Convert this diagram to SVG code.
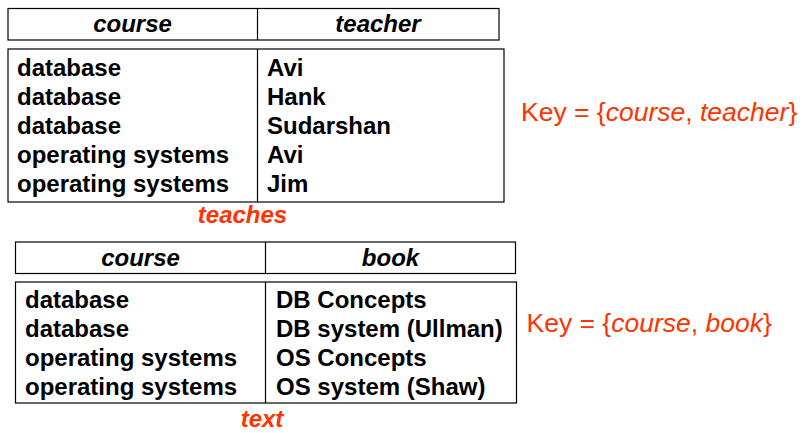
<svg xmlns="http://www.w3.org/2000/svg" width="805" height="433" viewBox="0 0 805 433">
<style>
.box{fill:#fff;stroke:#000;stroke-width:1.2}
.ln{stroke:#000;stroke-width:1.2}
.hd{font-family:"Liberation Sans",Arial,sans-serif;font-weight:bold;font-style:italic;font-size:24px;fill:#000;text-anchor:middle}
.cell{font-family:"Liberation Sans",Arial,sans-serif;font-weight:bold;font-size:24px;fill:#000}
.name{font-family:"Liberation Sans",Arial,sans-serif;font-weight:bold;font-style:italic;font-size:24px;fill:#FF3300;text-anchor:middle}
.key{font-family:"Liberation Sans",Arial,sans-serif;font-size:26.5px;fill:#FF3300}
</style>
<rect width="805" height="433" fill="#fff"/>
<g id="teaches">
  <rect class="box" x="8" y="8.5" width="491" height="31.5"/>
  <line class="ln" x1="257.5" y1="8.5" x2="257.5" y2="40"/>
  <text class="hd" x="132.5" y="32">course</text>
  <text class="hd" x="378" y="32">teacher</text>
  <rect class="box" x="8" y="49" width="496" height="153"/>
  <line class="ln" x1="257.5" y1="49" x2="257.5" y2="202"/>
  <text class="cell" x="17" y="76">database</text>
  <text class="cell" x="17" y="105">database</text>
  <text class="cell" x="17" y="134">database</text>
  <text class="cell" x="17" y="163">operating systems</text>
  <text class="cell" x="17" y="192">operating systems</text>
  <text class="cell" x="267" y="76">Avi</text>
  <text class="cell" x="267" y="105">Hank</text>
  <text class="cell" x="267" y="134">Sudarshan</text>
  <text class="cell" x="267" y="163">Avi</text>
  <text class="cell" x="267" y="192">Jim</text>
  <text class="name" x="242.5" y="223">teaches</text>
  <text class="key" x="521" y="121">Key = {<tspan font-style="italic">course</tspan>, <tspan font-style="italic">teacher</tspan>}</text>
</g>
<g id="text">
  <rect class="box" x="15.5" y="242" width="500" height="31.5"/>
  <line class="ln" x1="265.5" y1="242" x2="265.5" y2="273.5"/>
  <text class="hd" x="140.5" y="266">course</text>
  <text class="hd" x="390.5" y="266">book</text>
  <rect class="box" x="15.5" y="282" width="501" height="121"/>
  <line class="ln" x1="265.5" y1="282" x2="265.5" y2="403"/>
  <text class="cell" x="25" y="308">database</text>
  <text class="cell" x="25" y="337">database</text>
  <text class="cell" x="25" y="366">operating systems</text>
  <text class="cell" x="25" y="395">operating systems</text>
  <text class="cell" x="276" y="308">DB Concepts</text>
  <text class="cell" x="276" y="337">DB system (Ullman)</text>
  <text class="cell" x="276" y="366">OS Concepts</text>
  <text class="cell" x="276" y="395">OS system (Shaw)</text>
  <text class="name" x="262" y="427">text</text>
  <text class="key" x="526.5" y="332">Key = {<tspan font-style="italic">course</tspan>, <tspan font-style="italic">book</tspan>}</text>
</g>
<g id="connectors"/>
</svg>
